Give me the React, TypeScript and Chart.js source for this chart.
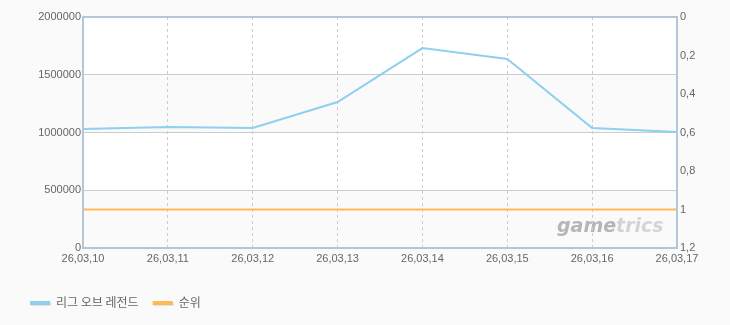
import React, { useEffect, useRef } from "react";
import { Chart, registerables } from "chart.js";

Chart.register(...registerables);

const dates = ["26,03,10", "26,03,11", "26,03,12", "26,03,13", "26,03,14", "26,03,15", "26,03,16", "26,03,17"];
const lolValues = [1030000, 1048000, 1039000, 1264000, 1731000, 1636000, 1039000, 1004000];
const rankValues = [1, 1, 1, 1, 1, 1, 1, 1];
const seriesNames = ["리그 오브 레전드", "순위"];
const seriesColors = ["rgb(143,207,240)", "rgb(255,186,82)"];

const bandsPlugin = {
  id: "bands",
  beforeDraw(chart: any) {
    const { ctx, chartArea, scales } = chart;
    const y = scales.y;
    ctx.save();
    ctx.fillStyle = "#fafafa";
    ctx.fillRect(0, 0, chart.width, chart.height);
    ctx.fillStyle = "#ffffff";
    ctx.fillRect(chartArea.left, chartArea.top, chartArea.right - chartArea.left, chartArea.bottom - chartArea.top);
    const ticks = y.ticks.map((t: any) => t.value).sort((a: number, b: number) => b - a);
    for (let i = 0; i < ticks.length - 1; i++) {
      if (i % 2 === 1) {
        const top = y.getPixelForValue(ticks[i]);
        const bot = y.getPixelForValue(ticks[i + 1]);
        ctx.fillStyle = "#fafafa";
        ctx.fillRect(chartArea.left, top, chartArea.right - chartArea.left, bot - top);
      }
    }
    // watermark
    ctx.font = "italic bold 19px 'DejaVu Sans', sans-serif";
    ctx.textBaseline = "alphabetic";
    ctx.textAlign = "left";
    const x0 = chartArea.right - 120;
    const by = chartArea.bottom - 16;
    ctx.fillStyle = "#b5b5b5";
    ctx.fillText("game", x0, by);
    const w = ctx.measureText("game").width;
    ctx.fillStyle = "#d4d4d4";
    ctx.fillText("trics", x0 + w, by);
    ctx.restore();
  },
};

const borderLegendPlugin = {
  id: "borderLegend",
  afterDraw(chart: any) {
    const { ctx, chartArea } = chart;
    ctx.save();
    ctx.strokeStyle = "#b3c6da";
    ctx.lineWidth = 2;
    ctx.strokeRect(chartArea.left, chartArea.top, chartArea.right - chartArea.left, chartArea.bottom - chartArea.top);
    // legend
    ctx.font = "12px 'Noto Sans CJK KR', sans-serif";
    ctx.textBaseline = "middle";
    ctx.textAlign = "left";
    let x = 30;
    const ly = 301;
    seriesNames.forEach((name, i) => {
      ctx.fillStyle = "#e2e2e2";
      ctx.fillRect(x + 1, ly + 1, 20, 4);
      ctx.fillStyle = seriesColors[i];
      ctx.fillRect(x, ly, 20, 4);
      ctx.fillStyle = "#666666";
      ctx.fillText(name, x + 26, ly + 1);
      x += 26 + ctx.measureText(name).width + 14;
    });
    ctx.restore();
  },
};

export default function App() {
  const ref = useRef<HTMLCanvasElement>(null);
  useEffect(() => {
    if (!ref.current) return;
    const tickFont = { family: "'Liberation Sans', Arial, sans-serif", size: 11 };
    const chart = new Chart(ref.current, {
      type: "line",
      data: {
        labels: dates,
        datasets: [
          {
            label: seriesNames[0],
            data: lolValues,
            borderColor: seriesColors[0],
            backgroundColor: seriesColors[0],
            borderWidth: 2,
            pointRadius: 0,
            tension: 0,
            yAxisID: "y",
          },
          {
            label: seriesNames[1],
            data: rankValues,
            borderColor: seriesColors[1],
            backgroundColor: seriesColors[1],
            borderWidth: 2,
            pointRadius: 0,
            tension: 0,
            yAxisID: "y2",
          },
        ],
      },
      options: {
        animation: false,
        responsive: false,
        devicePixelRatio: 1,
        layout: { padding: { top: 17, left: 0, right: 0, bottom: 0 } },
        plugins: { legend: { display: false }, tooltip: { enabled: false } },
        scales: {
          x: {
            offset: false,
            grid: { color: "#cccccc", drawTicks: false, tickLength: 0 },
            border: { display: false, dash: [3, 3] },
            ticks: { color: "#666666", font: tickFont, padding: 4, maxRotation: 0, autoSkip: false },
            afterFit: (s: any) => { s.height = 77; },
          },
          y: {
            position: "left",
            min: 0,
            max: 2000000,
            grid: { color: "#cccccc", drawTicks: false },
            border: { display: false },
            ticks: { stepSize: 500000, color: "#666666", font: tickFont, padding: 2, callback: (v: any) => String(v) },
            afterFit: (s: any) => { s.width = 83; },
          },
          y2: {
            position: "right",
            reverse: true,
            min: 0,
            max: 1.2,
            grid: { display: false, drawTicks: false },
            border: { display: false },
            ticks: {
              stepSize: 0.2,
              color: "#666666",
              font: tickFont,
              padding: 3,
              callback: (v: any) => String(Number(Number(v).toFixed(1))).replace(".", ","),
            },
            afterFit: (s: any) => { s.width = 53; },
          },
        },
      },
      plugins: [bandsPlugin, borderLegendPlugin],
    } as any);
    return () => chart.destroy();
  }, []);
  return (
    <div style={{ position: "absolute", left: 0, top: 0, width: 730, height: 325 }}>
      <canvas ref={ref} width={730} height={325} style={{ display: "block", width: 730, height: 325 }} />
    </div>
  );
}
